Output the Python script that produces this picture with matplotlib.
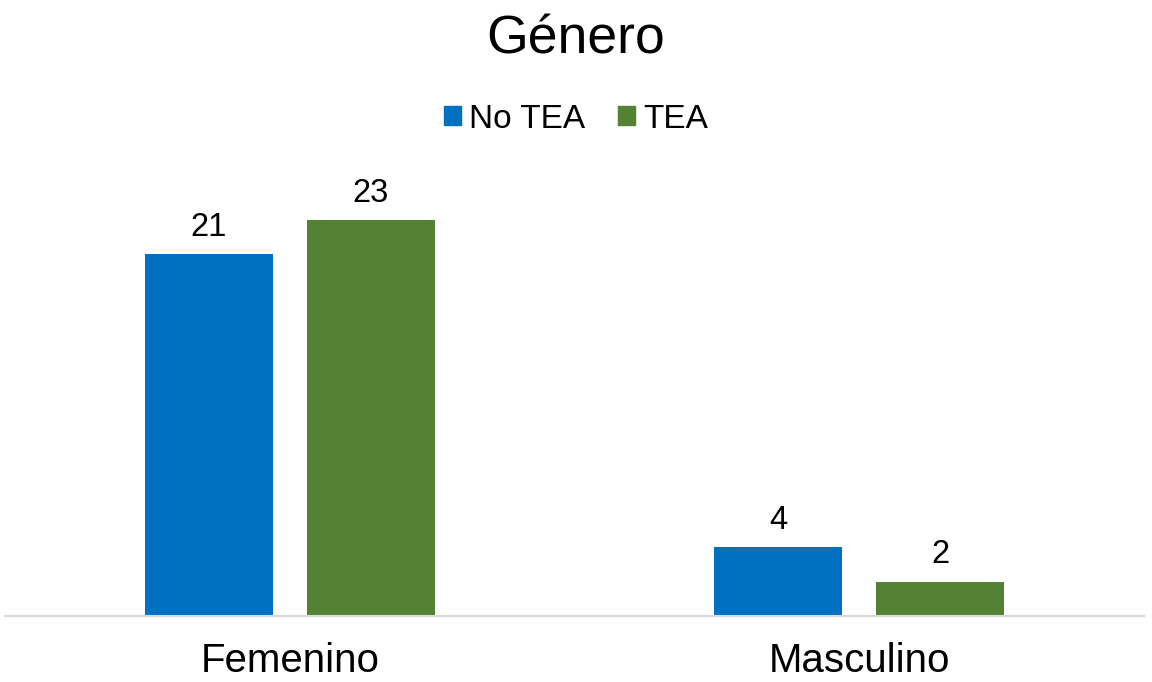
import numpy as np
import matplotlib.pyplot as plt
from matplotlib.patches import Patch

plt.rcParams['font.family'] = ['Liberation Sans', 'DejaVu Sans']

# Datos por género
categorias = ['Femenino', 'Masculino']
no_tea = [21, 4]
tea = [23, 2]
series = ['No TEA', 'TEA']
colores = ['#0070C0', '#548235']

fig = plt.figure(figsize=(11.52, 6.82), dpi=100)
ax = fig.add_axes([5 / 1152, 0.0968, 1139 / 1152, 0.682])

x = np.arange(len(categorias))
ancho = 0.225
desp = 0.142

b1 = ax.bar(x - desp, no_tea, ancho, color=colores[0])
b2 = ax.bar(x + desp, tea, ancho, color=colores[1])
for cont in (b1, b2):
    ax.bar_label(cont, padding=8, fontsize=23.5)

ax.set_xlim(-0.5, 1.5)
ax.set_ylim(0, 27)
ax.set_xticks(x, categorias, fontsize=29)
ax.tick_params(axis='x', length=0, pad=19)
ax.set_yticks([])
for lado in ['left', 'right', 'top']:
    ax.spines[lado].set_visible(False)
ax.spines['bottom'].set_color('#D9D9D9')
ax.spines['bottom'].set_linewidth(1.5)

fig.text(0.5, 1 - 40 / 682, 'Género', ha='center', va='center', fontsize=38.5)

handles = [Patch(color=c, label=s) for c, s in zip(colores, series)]
fig.legend(handles=handles, loc='center', bbox_to_anchor=(0.5, 1 - 119 / 682),
           ncol=2, frameon=False, fontsize=24, handlelength=0.5, handleheight=0.5,
           handletextpad=0.25, columnspacing=1.0)

fig.savefig('out.png', dpi=100)
